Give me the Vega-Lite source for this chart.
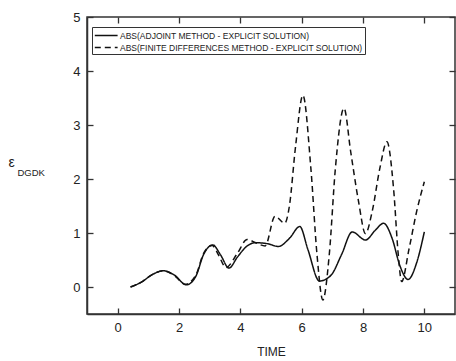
{
  "$schema": "https://vega.github.io/schema/vega-lite/v6.json",
  "width": 368,
  "height": 297,
  "autosize": {"type": "none"},
  "padding": {"left": 87, "top": 17, "right": 1, "bottom": 47},
  "background": "white",
  "config": {
    "view": {"stroke": "#333", "strokeWidth": 1.5},
    "font": "Liberation Sans",
    "axis": {"grid": false, "labelFont": "Liberation Sans", "titleFont": "Liberation Sans", "labelColor": "#222", "titleColor": "#222", "tickColor": "#333", "domainColor": "#333", "domainWidth": 1.5, "tickWidth": 1.3}
  },
  "datasets": {
    "curves": [
      {"time": 0.42, "value": 0.0, "series": "ABS(ADJOINT METHOD - EXPLICIT SOLUTION)"},
      {"time": 0.8, "value": 0.1, "series": "ABS(ADJOINT METHOD - EXPLICIT SOLUTION)"},
      {"time": 1.1, "value": 0.22, "series": "ABS(ADJOINT METHOD - EXPLICIT SOLUTION)"},
      {"time": 1.49, "value": 0.3, "series": "ABS(ADJOINT METHOD - EXPLICIT SOLUTION)"},
      {"time": 1.85, "value": 0.22, "series": "ABS(ADJOINT METHOD - EXPLICIT SOLUTION)"},
      {"time": 2.24, "value": 0.04, "series": "ABS(ADJOINT METHOD - EXPLICIT SOLUTION)"},
      {"time": 2.55, "value": 0.2, "series": "ABS(ADJOINT METHOD - EXPLICIT SOLUTION)"},
      {"time": 2.8, "value": 0.6, "series": "ABS(ADJOINT METHOD - EXPLICIT SOLUTION)"},
      {"time": 3.1, "value": 0.78, "series": "ABS(ADJOINT METHOD - EXPLICIT SOLUTION)"},
      {"time": 3.35, "value": 0.6, "series": "ABS(ADJOINT METHOD - EXPLICIT SOLUTION)"},
      {"time": 3.63, "value": 0.35, "series": "ABS(ADJOINT METHOD - EXPLICIT SOLUTION)"},
      {"time": 3.9, "value": 0.55, "series": "ABS(ADJOINT METHOD - EXPLICIT SOLUTION)"},
      {"time": 4.2, "value": 0.75, "series": "ABS(ADJOINT METHOD - EXPLICIT SOLUTION)"},
      {"time": 4.49, "value": 0.82, "series": "ABS(ADJOINT METHOD - EXPLICIT SOLUTION)"},
      {"time": 4.9, "value": 0.8, "series": "ABS(ADJOINT METHOD - EXPLICIT SOLUTION)"},
      {"time": 5.24, "value": 0.75, "series": "ABS(ADJOINT METHOD - EXPLICIT SOLUTION)"},
      {"time": 5.6, "value": 0.9, "series": "ABS(ADJOINT METHOD - EXPLICIT SOLUTION)"},
      {"time": 5.94, "value": 1.12, "series": "ABS(ADJOINT METHOD - EXPLICIT SOLUTION)"},
      {"time": 6.2, "value": 0.7, "series": "ABS(ADJOINT METHOD - EXPLICIT SOLUTION)"},
      {"time": 6.58, "value": 0.11, "series": "ABS(ADJOINT METHOD - EXPLICIT SOLUTION)"},
      {"time": 6.96, "value": 0.22, "series": "ABS(ADJOINT METHOD - EXPLICIT SOLUTION)"},
      {"time": 7.3, "value": 0.6, "series": "ABS(ADJOINT METHOD - EXPLICIT SOLUTION)"},
      {"time": 7.65, "value": 1.02, "series": "ABS(ADJOINT METHOD - EXPLICIT SOLUTION)"},
      {"time": 8.08, "value": 0.87, "series": "ABS(ADJOINT METHOD - EXPLICIT SOLUTION)"},
      {"time": 8.4, "value": 1.05, "series": "ABS(ADJOINT METHOD - EXPLICIT SOLUTION)"},
      {"time": 8.67, "value": 1.18, "series": "ABS(ADJOINT METHOD - EXPLICIT SOLUTION)"},
      {"time": 8.95, "value": 0.9, "series": "ABS(ADJOINT METHOD - EXPLICIT SOLUTION)"},
      {"time": 9.2, "value": 0.4, "series": "ABS(ADJOINT METHOD - EXPLICIT SOLUTION)"},
      {"time": 9.47, "value": 0.14, "series": "ABS(ADJOINT METHOD - EXPLICIT SOLUTION)"},
      {"time": 9.75, "value": 0.45, "series": "ABS(ADJOINT METHOD - EXPLICIT SOLUTION)"},
      {"time": 10.0, "value": 1.02, "series": "ABS(ADJOINT METHOD - EXPLICIT SOLUTION)"},
      {"time": 0.42, "value": 0.0, "series": "ABS(FINITE DIFFERENCES METHOD - EXPLICIT SOLUTION)"},
      {"time": 0.8, "value": 0.1, "series": "ABS(FINITE DIFFERENCES METHOD - EXPLICIT SOLUTION)"},
      {"time": 1.1, "value": 0.22, "series": "ABS(FINITE DIFFERENCES METHOD - EXPLICIT SOLUTION)"},
      {"time": 1.49, "value": 0.3, "series": "ABS(FINITE DIFFERENCES METHOD - EXPLICIT SOLUTION)"},
      {"time": 1.85, "value": 0.21, "series": "ABS(FINITE DIFFERENCES METHOD - EXPLICIT SOLUTION)"},
      {"time": 2.2, "value": 0.05, "series": "ABS(FINITE DIFFERENCES METHOD - EXPLICIT SOLUTION)"},
      {"time": 2.55, "value": 0.22, "series": "ABS(FINITE DIFFERENCES METHOD - EXPLICIT SOLUTION)"},
      {"time": 2.8, "value": 0.62, "series": "ABS(FINITE DIFFERENCES METHOD - EXPLICIT SOLUTION)"},
      {"time": 3.08, "value": 0.77, "series": "ABS(FINITE DIFFERENCES METHOD - EXPLICIT SOLUTION)"},
      {"time": 3.3, "value": 0.58, "series": "ABS(FINITE DIFFERENCES METHOD - EXPLICIT SOLUTION)"},
      {"time": 3.53, "value": 0.36, "series": "ABS(FINITE DIFFERENCES METHOD - EXPLICIT SOLUTION)"},
      {"time": 3.9, "value": 0.62, "series": "ABS(FINITE DIFFERENCES METHOD - EXPLICIT SOLUTION)"},
      {"time": 4.22, "value": 0.88, "series": "ABS(FINITE DIFFERENCES METHOD - EXPLICIT SOLUTION)"},
      {"time": 4.5, "value": 0.82, "series": "ABS(FINITE DIFFERENCES METHOD - EXPLICIT SOLUTION)"},
      {"time": 4.81, "value": 0.76, "series": "ABS(FINITE DIFFERENCES METHOD - EXPLICIT SOLUTION)"},
      {"time": 5.13, "value": 1.31, "series": "ABS(FINITE DIFFERENCES METHOD - EXPLICIT SOLUTION)"},
      {"time": 5.45, "value": 1.18, "series": "ABS(FINITE DIFFERENCES METHOD - EXPLICIT SOLUTION)"},
      {"time": 5.6, "value": 1.5, "series": "ABS(FINITE DIFFERENCES METHOD - EXPLICIT SOLUTION)"},
      {"time": 5.8, "value": 2.6, "series": "ABS(FINITE DIFFERENCES METHOD - EXPLICIT SOLUTION)"},
      {"time": 6.04, "value": 3.55, "series": "ABS(FINITE DIFFERENCES METHOD - EXPLICIT SOLUTION)"},
      {"time": 6.3, "value": 2.2, "series": "ABS(FINITE DIFFERENCES METHOD - EXPLICIT SOLUTION)"},
      {"time": 6.5, "value": 0.6, "series": "ABS(FINITE DIFFERENCES METHOD - EXPLICIT SOLUTION)"},
      {"time": 6.69, "value": -0.24, "series": "ABS(FINITE DIFFERENCES METHOD - EXPLICIT SOLUTION)"},
      {"time": 6.9, "value": 0.6, "series": "ABS(FINITE DIFFERENCES METHOD - EXPLICIT SOLUTION)"},
      {"time": 7.1, "value": 2.2, "series": "ABS(FINITE DIFFERENCES METHOD - EXPLICIT SOLUTION)"},
      {"time": 7.38, "value": 3.31, "series": "ABS(FINITE DIFFERENCES METHOD - EXPLICIT SOLUTION)"},
      {"time": 7.6, "value": 2.5, "series": "ABS(FINITE DIFFERENCES METHOD - EXPLICIT SOLUTION)"},
      {"time": 7.85, "value": 1.6, "series": "ABS(FINITE DIFFERENCES METHOD - EXPLICIT SOLUTION)"},
      {"time": 8.08, "value": 0.99, "series": "ABS(FINITE DIFFERENCES METHOD - EXPLICIT SOLUTION)"},
      {"time": 8.3, "value": 1.4, "series": "ABS(FINITE DIFFERENCES METHOD - EXPLICIT SOLUTION)"},
      {"time": 8.55, "value": 2.2, "series": "ABS(FINITE DIFFERENCES METHOD - EXPLICIT SOLUTION)"},
      {"time": 8.78, "value": 2.69, "series": "ABS(FINITE DIFFERENCES METHOD - EXPLICIT SOLUTION)"},
      {"time": 9.0, "value": 1.8, "series": "ABS(FINITE DIFFERENCES METHOD - EXPLICIT SOLUTION)"},
      {"time": 9.15, "value": 0.6, "series": "ABS(FINITE DIFFERENCES METHOD - EXPLICIT SOLUTION)"},
      {"time": 9.26, "value": 0.1, "series": "ABS(FINITE DIFFERENCES METHOD - EXPLICIT SOLUTION)"},
      {"time": 9.5, "value": 0.7, "series": "ABS(FINITE DIFFERENCES METHOD - EXPLICIT SOLUTION)"},
      {"time": 9.75, "value": 1.4, "series": "ABS(FINITE DIFFERENCES METHOD - EXPLICIT SOLUTION)"},
      {"time": 10.0, "value": 1.95, "series": "ABS(FINITE DIFFERENCES METHOD - EXPLICIT SOLUTION)"}
    ]
  },
  "data": {"name": "curves"},
  "resolve": {"axis": {"x": "independent", "y": "independent"}},
  "layer": [
    {
      "mark": {"type": "line", "interpolate": "monotone", "color": "#111", "strokeWidth": 1.5},
      "encoding": {
        "x": {"field": "time", "type": "quantitative", "scale": {"domain": [-1, 11], "nice": false, "zero": false},
          "axis": {"orient": "bottom", "values": [0, 2, 4, 6, 8, 10], "tickSize": -6, "labelPadding": 13, "labelFontSize": 13, "title": "TIME", "titleFontSize": 12, "titleFontWeight": "normal", "titlePadding": 12}},
        "y": {"field": "value", "type": "quantitative", "scale": {"domain": [-0.5, 5], "nice": false, "zero": false},
          "axis": {"orient": "left", "values": [0, 1, 2, 3, 4, 5], "tickSize": -6, "labelPadding": 13, "labelFontSize": 13, "title": "ε", "titleFontSize": 14, "titleFontWeight": "normal", "titleAngle": 0, "titleAlign": "center", "titleBaseline": "middle", "titleX": -76, "titleY": 145}},
        "strokeDash": {"field": "series", "type": "nominal",
          "scale": {"domain": ["ABS(ADJOINT METHOD - EXPLICIT SOLUTION)", "ABS(FINITE DIFFERENCES METHOD - EXPLICIT SOLUTION)"], "range": [[1, 0], [6, 4]]},
          "legend": {"orient": "none", "legendX": 5, "legendY": 10, "title": null, "symbolType": "M-1,0L3,0", "symbolSize": 130, "symbolStrokeWidth": 1.5, "symbolStrokeColor": "#111", "labelFontSize": 8.5, "labelLimit": 600, "labelColor": "#222", "strokeColor": "#333", "padding": 2, "rowPadding": 1, "labelOffset": 13}}
      }
    },
    {
      "mark": {"type": "point", "opacity": 0},
      "encoding": {
        "x": {"field": "time", "type": "quantitative",
          "axis": {"orient": "top", "values": [0, 2, 4, 6, 8, 10], "tickSize": -6, "labels": false, "domain": false, "title": null}},
        "y": {"field": "value", "type": "quantitative",
          "axis": {"orient": "right", "values": [0, 1, 2, 3, 4, 5], "tickSize": -6, "labels": false, "domain": false, "title": null}}
      }
    },
    {
      "mark": {"type": "point", "opacity": 0},
      "encoding": {
        "y": {"field": "value", "type": "quantitative",
          "axis": {"orient": "left", "labels": false, "ticks": false, "domain": false, "title": "DGDK", "titleFontSize": 9.5, "titleFontWeight": "normal", "titleAngle": 0, "titleAlign": "left", "titleBaseline": "middle", "titleX": -70, "titleY": 155}}
      }
    }
  ]
}
